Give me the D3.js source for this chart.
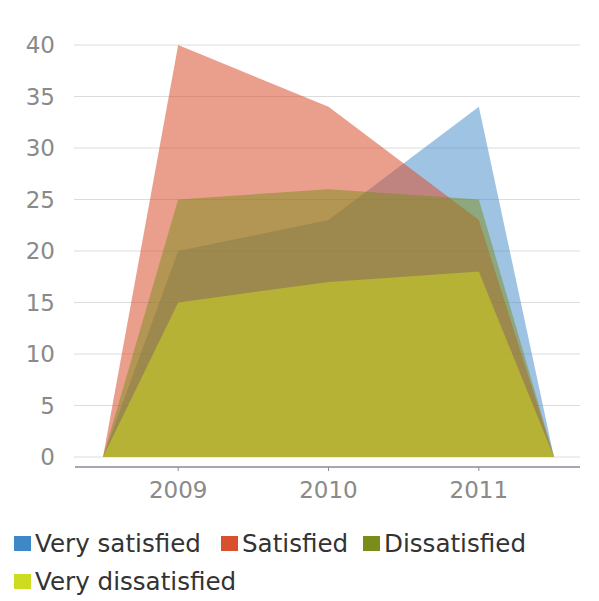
<!DOCTYPE html>
<html><head><meta charset="utf-8">
<script src="https://d3js.org/d3.v7.min.js"></script>
<style>body{margin:0;background:#fff;}svg{display:block;font-family:"DejaVu Sans",sans-serif;}</style>
</head><body>
<script>
const xValues = [2008.5, 2009, 2010, 2011, 2011.5];
const xTicks = [2009, 2010, 2011];
const yTicks = [0, 5, 10, 15, 20, 25, 30, 35, 40];
const seriesNames = ["Very satisfied", "Satisfied", "Dissatisfied", "Very dissatisfied"];
const verySatisfied = [0, 20, 23, 34, 0];
const satisfied = [0, 40, 34, 23, 0];
const dissatisfied = [0, 25, 26, 25, 0];
const veryDissatisfied = [0, 15, 17, 18, 0];
const colors = ["#3f87c6", "#d9502e", "#7b8c1b", "#cddc20"];
const opacities = [0.5, 0.55, 0.5, 0.5];
const seriesValues = [verySatisfied, satisfied, dissatisfied, veryDissatisfied];

const W = 599, H = 601;
const svg = d3.select("body").append("svg").attr("width", W).attr("height", H);
const x = d3.scaleLinear().domain([2008.5, 2011.5]).range([103, 554]);
const y = d3.scaleLinear().domain([0, 40]).range([457, 45]);

// gridlines
svg.append("g").selectAll("line").data(yTicks).join("line")
  .attr("x1", 74).attr("x2", 580)
  .attr("y1", d => y(d)).attr("y2", d => y(d))
  .attr("stroke", "#dcdcdc").attr("stroke-width", 1);
// y labels
svg.append("g").selectAll("text").data(yTicks).join("text")
  .attr("x", 55).attr("y", d => y(d)).attr("dy", "0.35em")
  .attr("text-anchor", "end").attr("fill", "#8a8a8a").attr("font-size", 23)
  .text(d => d);

const area = d3.area().x((d, i) => x(xValues[i])).y0(y(0)).y1(d => y(d));
svg.append("g").selectAll("path").data(seriesValues).join("path")
  .attr("d", d => area(d))
  .attr("fill", (d, i) => colors[i]).attr("fill-opacity", (d, i) => opacities[i]);

// x axis
const xAxis = svg.append("g").attr("transform", "translate(0,467)");
xAxis.append("line").attr("x1", 75).attr("x2", 580).attr("stroke", "#8a8a9a").attr("stroke-width", 1.5);
xAxis.selectAll("line.t").data(xTicks).join("line").attr("class", "t")
  .attr("x1", d => x(d)).attr("x2", d => x(d)).attr("y1", 0).attr("y2", 4)
  .attr("stroke", "#8a8a9a");
xAxis.selectAll("text").data(xTicks).join("text")
  .attr("x", d => x(d)).attr("y", 23).attr("dy", "0.35em")
  .attr("text-anchor", "middle").attr("fill", "#8a8a8a").attr("font-size", 23)
  .text(d => d);

// legend
const legendPos = [[14, 543], [221, 543], [363, 543], [14, 581]];
const lg = svg.append("g").selectAll("g").data(seriesNames).join("g")
  .attr("transform", (d, i) => `translate(${legendPos[i][0]},${legendPos[i][1]})`);
lg.append("rect").attr("x", 0).attr("y", -7).attr("width", 17).attr("height", 15)
  .attr("fill", (d, i) => colors[i]);
lg.append("text").attr("x", 21).attr("y", 0).attr("dy", "0.35em")
  .attr("font-size", 24.6).attr("fill", "#333").text(d => d);
</script>
</body></html>
